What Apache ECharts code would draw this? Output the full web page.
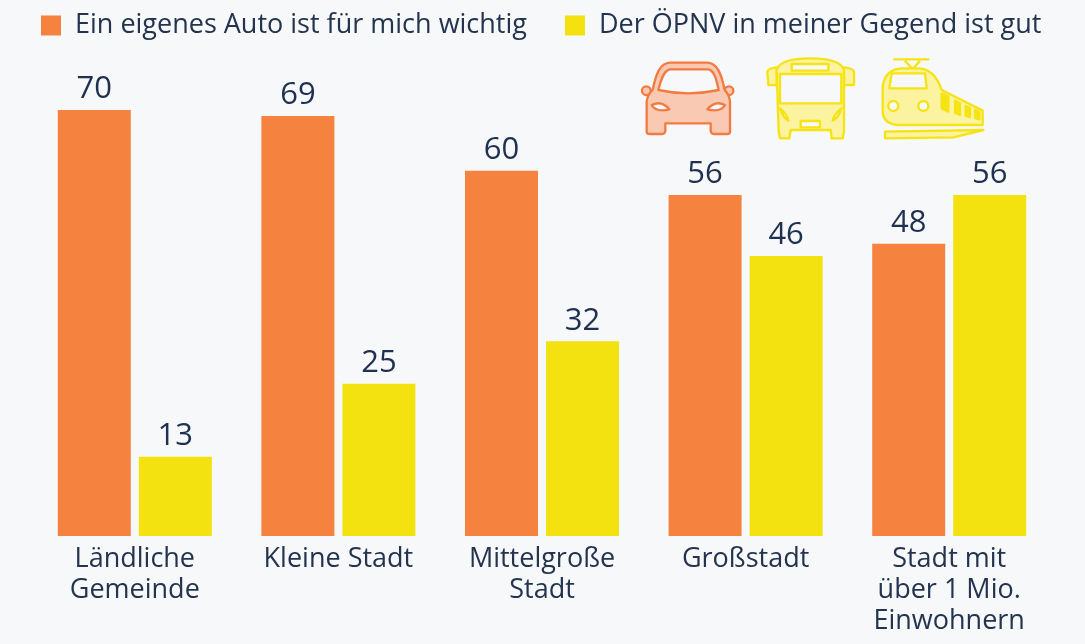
<!DOCTYPE html>
<html>
<head>
<meta charset="utf-8">
<style>
  html, body { margin: 0; padding: 0; background: #f6f8fa; }
  #chart { width: 1085px; height: 644px; }
</style>
<script src="https://cdn.jsdelivr.net/npm/echarts@6/dist/echarts.min.js"></script>
</head>
<body>
<div id="chart"></div>
<script>
const categories = ['Ländliche\nGemeinde', 'Kleine Stadt', 'Mittelgroße\nStadt', 'Großstadt', 'Stadt mit\nüber 1 Mio.\nEinwohnern']
const autoName = 'Ein eigenes Auto ist für mich wichtig'
const opnvName = 'Der ÖPNV in meiner Gegend ist gut'
const autoValues = [70, 69, 60, 56, 48]
const opnvValues = [13, 25, 32, 46, 56]

const fontFamily = '"Open Sans", "Noto Sans", sans-serif'
const bg = '#f6f8fa'
const orange = '#f6823f'
const yellow = '#f3e20f'
const labelStyle = { show: true, position: 'top', color: '#1f3050', fontSize: 31, fontFamily, distance: 5 }

// icons are drawn in the zoomed 3x space and scaled down by the group
const carFill = '#fac9b3'
const carLine = '#f47b3f'
const railFill = '#fbf3a0'
const railLine = '#f6e313'

const carIcon = [
  ['M66,152 A13,13 0 1 1 92,152 A13,13 0 1 1 66,152 Z', carFill, carLine],
  ['M314,152 A13,13 0 1 1 340,152 A13,13 0 1 1 314,152 Z', carFill, carLine],
  ['M80,275 L80,185 Q82,165 98,150 C108,100 120,70 150,68 L262,68 C292,70 304,100 314,150 Q328,165 330,185 L330,275 Q330,282 320,282 L282,282 Q272,282 272,270 L272,250 L136,250 L136,270 Q136,282 126,282 L90,282 Q80,282 80,275 Z', carFill, carLine],
  ['M115,150 C125,110 135,88 152,88 L262,88 C280,88 288,110 296,150 Q205,170 115,150 Z', bg, carLine],
  ['M95,195 Q125,180 148,208 Q108,218 95,195 Z', bg, carLine],
  ['M315,195 Q285,180 262,208 Q302,218 315,195 Z', bg, carLine]
]
const busIcon = [
  ['M442,95 Q445,85 470,82 L470,135 L445,135 Z', railFill, railLine],
  ['M702,95 Q699,85 672,82 L672,135 L702,135 Z', railFill, railLine],
  ['M470,90 Q480,55 570,55 Q662,55 672,90 L672,275 L668,295 L635,295 L632,270 L512,270 L508,295 L480,295 L476,275 Z', railFill, railLine],
  ['M515,72 L625,72 L625,92 L515,92 Z', bg, railLine],
  ['M480,102 L664,102 L664,190 L480,190 Z', bg, railLine],
  ['M480,205 Q500,220 505,242 Q490,235 480,205 Z', bg, railLine],
  ['M664,205 Q644,220 638,242 Q655,235 664,205 Z', bg, railLine],
  ['M542,243 L600,243 L600,262 L542,262 Z', bg, railLine]
]
const trainIcon = [
  ['M820,58 L928,58 M855,62 L878,88 L900,62 M880,88 L880,80', 'none', railLine],
  ['M788,140 Q795,85 850,85 L900,85 Q945,90 965,150 L1088,212 L1088,255 L830,255 Q790,250 788,215 Z', railFill, railLine],
  ['M815,100 L915,100 L920,145 L808,145 Z', bg, railLine],
  ['M805,198 A15,15 0 1 1 835,198 A15,15 0 1 1 805,198 Z', bg, railLine],
  ['M895,198 A15,15 0 1 1 925,198 A15,15 0 1 1 895,198 Z', bg, railLine],
  ['M965,160 L985,170 L985,215 L965,205 Z M1005,182 L1020,190 L1020,225 L1005,218 Z M1037,198 L1050,204 L1050,232 L1037,226 Z M1065,210 L1078,216 L1078,238 L1065,234 Z', railLine, railLine],
  ['M795,275 L1090,270 L1000,292 L795,295 Z', railFill, railLine]
]

const chart = echarts.init(document.getElementById('chart'), null, { renderer: 'canvas' })
chart.setOption({
  backgroundColor: bg,
  animation: false,
  legend: {
    top: 7,
    left: 36,
    itemWidth: 20,
    itemHeight: 20,
    itemGap: 38,
    icon: 'rect',
    textStyle: { color: '#24344e', fontSize: 27, fontFamily, padding: [0, 0, 0, 9] }
  },
  grid: { left: 33, right: 34, top: 49, bottom: 108 },
  xAxis: {
    type: 'category',
    data: categories,
    axisLine: { show: false },
    axisTick: { show: false },
    axisLabel: { color: '#24344e', fontSize: 27, fontFamily, lineHeight: 31, margin: 8, interval: 0 }
  },
  yAxis: { type: 'value', min: 0, max: 80, show: false },
  series: [
    { name: autoName, type: 'bar', data: autoValues, barWidth: 73, barGap: '11%', itemStyle: { color: orange }, label: labelStyle },
    { name: opnvName, type: 'bar', data: opnvValues, barWidth: 73, itemStyle: { color: yellow }, label: labelStyle }
  ]
})

// the graphic option has no path type, so the icons go straight on zrender
const icons = new echarts.graphic.Group({ x: 620, y: 40, scaleX: 1 / 3, scaleY: 1 / 3 })
const iconParts = [...carIcon, ...busIcon, ...trainIcon]
iconParts.forEach(([pathData, fill, stroke]) => {
  icons.add(echarts.graphic.makePath(pathData, {
    style: { fill, stroke, lineWidth: 7, lineJoin: 'round' }
  }))
})
chart.getZr().add(icons)
</script>
</body>
</html>
